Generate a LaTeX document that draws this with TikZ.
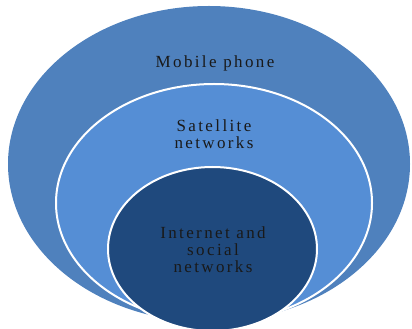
\documentclass[tikz,border=0pt]{standalone}
\usepackage{fontspec}
\setmainfont{Liberation Serif}
\usepackage{tikz}
\usetikzlibrary{positioning,shapes.geometric}
\definecolor{outerblue}{HTML}{4F81BD}
\definecolor{midblue}{HTML}{558ED5}
\definecolor{innerblue}{HTML}{1F497D}
\newfontfamily\ringfont[LetterSpace=14]{Liberation Serif}

\begin{document}
\begin{tikzpicture}[x=1pt,y=1pt,
  ring/.style={ellipse,inner sep=0pt},
  ringtxt/.style={font=\ringfont\fontsize{17}{17}\selectfont,align=center,text=black!90}]
\useasboundingbox (0,0) rectangle (412,329);
\clip (0,0) rectangle (412,329);
% rings, bottom aligned
\node[ring,fill=outerblue,minimum width=402pt,minimum height=316pt] (mobile) at (209,165) {};
\node[ring,fill=midblue,draw=white,line width=2pt,minimum width=316pt,minimum height=238pt] (sat) at (214,126) {};
\node[ring,fill=innerblue,draw=white,line width=2pt,minimum width=209pt,minimum height=164pt] (net) at (212.5,80) {};
% labels
\node[ringtxt] (mobilelbl) at (215,266) {Mobile phone};
\node[ringtxt] (satlbl) at (214,195) {Satellite\\networks};
\node[ringtxt] (netlbl) at (213,79) {Internet and\\social\\networks};
\end{tikzpicture}
\end{document}
